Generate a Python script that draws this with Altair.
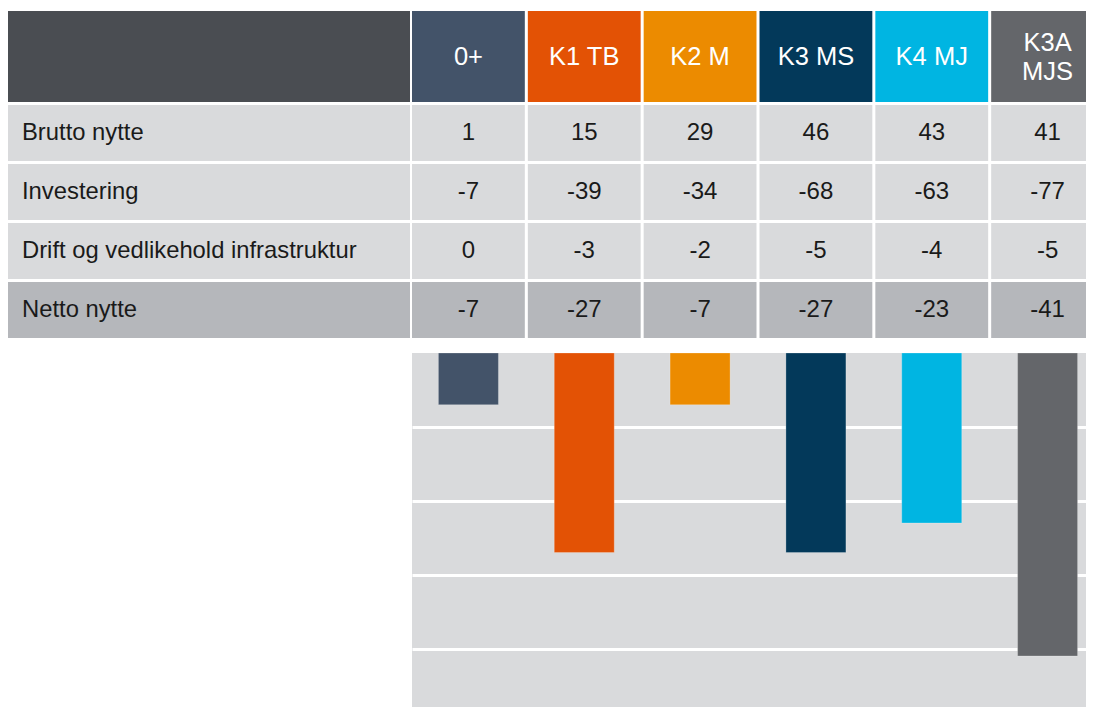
import altair as alt
import pandas as pd

alternatives = ["0+", "K1 TB", "K2 M", "K3 MS", "K4 MJ", "K3A MJS"]
header_labels = ["0+", "K1 TB", "K2 M", "K3 MS", "K4 MJ", "K3A\nMJS"]
colors = ["#435369", "#e35205", "#ec8b00", "#03395a", "#00b5e2", "#64666a"]

rows = ["Brutto nytte", "Investering", "Drift og vedlikehold infrastruktur", "Netto nytte"]
brutto = [1, 15, 29, 46, 43, 41]
investering = [-7, -39, -34, -68, -63, -77]
drift = [0, -3, -2, -5, -4, -5]
netto = [-7, -27, -7, -27, -23, -41]

grid_values = [-10, -20, -30, -40]

FONT = "Liberation Sans"
FS_LABEL = 23.8
FS_CELL = 24
FS_HEAD = 25.5
LIGHT = "#d9dadc"
DARK_ROW = "#b5b7bb"
HEAD_LEFT = "#4a4d52"
TXT = "#1a1a1a"

row_kind = ["normal", "normal", "normal", "total"]

W_LEFT = 402
W_RIGHT = 674          # visible part (page must fit in window)
W_COLS = 692           # full extent of six columns (last one runs past the edge)
H_HEAD = 91
H_ROWS = 233
H_BARS = 354
Y_MIN = -47.9

xscale = alt.Scale(domain=alternatives, range=[0, W_COLS], paddingInner=0.026, paddingOuter=0)
yscale = alt.Scale(domain=rows, paddingInner=0.05, paddingOuter=0)
color_scale = alt.Scale(domain=alternatives, range=colors)
row_fill = alt.condition("datum.kind == 'total'", alt.value(DARK_ROW), alt.value(LIGHT))

# header left (blank dark cell)
head_left_df = pd.DataFrame({"t": [""]})
header_left = alt.Chart(head_left_df).mark_text().encode(
    text="t:N"
).properties(width=W_LEFT, height=H_HEAD,
             view=alt.ViewBackground(fill=HEAD_LEFT, stroke=None))

# header right
head_df = pd.DataFrame({
    "alt": alternatives,
    "label": header_labels,
    "multi": ["\n" in s for s in header_labels],
})
hbase = alt.Chart(head_df).encode(
    x=alt.X("alt:N", sort=alternatives, scale=xscale, axis=None)
)
header_right = alt.layer(
    hbase.mark_rect(clip=True).encode(
        fill=alt.Fill("alt:N", scale=color_scale, legend=None)
    ),
    hbase.transform_filter("!datum.multi").mark_text(
        color="white", font=FONT, fontSize=FS_HEAD, clip=True
    ).encode(text="label:N"),
    hbase.transform_filter("datum.multi").mark_text(
        color="white", font=FONT, fontSize=FS_HEAD, lineBreak="\n",
        lineHeight=29, dy=-14, clip=True
    ).encode(text="label:N"),
).properties(width=W_RIGHT, height=H_HEAD)

# row labels
rows_df = pd.DataFrame({"row": rows, "kind": row_kind})
rbase = alt.Chart(rows_df).encode(
    y=alt.Y("row:N", sort=rows, scale=yscale, axis=None)
)
row_labels = alt.layer(
    rbase.mark_rect().encode(fill=row_fill),
    rbase.mark_text(align="left", color=TXT, font=FONT, fontSize=FS_LABEL).encode(
        x=alt.value(14), text="row:N"),
).properties(width=W_LEFT, height=H_ROWS)

# value cells
series = [brutto, investering, drift, netto]
records = []
for r, k, vals in zip(rows, row_kind, series):
    for a, v in zip(alternatives, vals):
        records.append({"alt": a, "row": r, "kind": k, "value": v, "label": str(v)})
cells_df = pd.DataFrame(records)
cbase = alt.Chart(cells_df).encode(
    x=alt.X("alt:N", sort=alternatives, scale=xscale, axis=None),
    y=alt.Y("row:N", sort=rows, scale=yscale, axis=None),
)
cells = alt.layer(
    cbase.mark_rect(clip=True).encode(fill=row_fill),
    cbase.mark_text(color=TXT, font=FONT, fontSize=FS_CELL, clip=True).encode(
        text="label:N"
    ),
).properties(width=W_RIGHT, height=H_ROWS)

# bars (netto nytte)
bars_df = pd.DataFrame({"alt": alternatives, "netto": netto})
bars = alt.Chart(bars_df).mark_bar(width=60, stroke="#ffffff", strokeOpacity=0.3,
                                    strokeWidth=0.8, clip=True).encode(
    x=alt.X("alt:N", sort=alternatives, scale=xscale, axis=None),
    y=alt.Y("netto:Q", scale=alt.Scale(domain=[Y_MIN, 0], nice=False, zero=True),
            axis=alt.Axis(values=grid_values, grid=True, gridColor="white",
                          gridWidth=3, labels=False, ticks=False, domain=False,
                          title=None, minExtent=0, maxExtent=0)),
    fill=alt.Fill("alt:N", scale=color_scale, legend=None),
).properties(width=W_RIGHT, height=H_BARS,
             view=alt.ViewBackground(fill=LIGHT, stroke=None))

left = alt.vconcat(header_left, row_labels, spacing=3)
right = alt.vconcat(
    alt.vconcat(header_right, cells, spacing=3),
    bars,
    spacing=15,
)

chart = alt.hconcat(left, right, spacing=2).properties(
    padding={"left": 0, "top": 3, "right": 0, "bottom": 0},
    background="white",
).configure_view(stroke=None).configure_text(font=FONT)

chart.save("out.html", embed_options={"renderer": "svg", "actions": False})
